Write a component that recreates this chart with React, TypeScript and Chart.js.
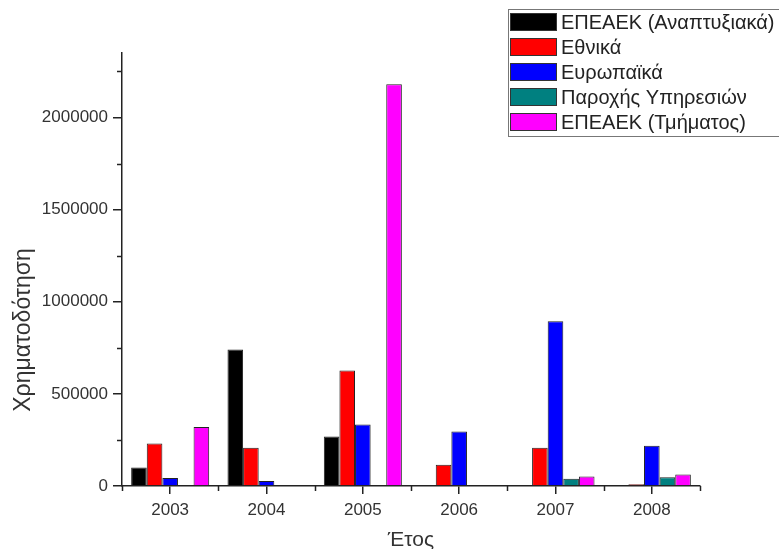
import { useEffect, useRef } from 'react';
import { Chart, registerables } from 'chart.js';

Chart.register(...registerables);

const years = ['2003', '2004', '2005', '2006', '2007', '2008'];
const seriesNames = [
  'ΕΠΕΑΕΚ (Αναπτυξιακά)',
  'Εθνικά',
  'Ευρωπαϊκά',
  'Παροχής Υπηρεσιών',
  'ΕΠΕΑΕΚ (Τμήματος)',
];
const epeaekAnaptyxiaka = [100000, 741000, 268000, null, null, null];
const ethnika = [230000, 207000, 627000, 115000, 207000, 10000];
const evropaika = [44000, 27000, 334000, 296000, 894000, 219000];
const paroxisYpiresion = [null, null, null, null, 40000, 48000];
const epeaekTmimatos = [320000, null, 2180000, null, 51000, 62000];
const yMajorTicks = [0, 500000, 1000000, 1500000, 2000000];
const yMinorTicks = [250000, 750000, 1250000, 1750000, 2250000];
const yMax = 2350000;
const xTitle = 'Έτος';
const yTitle = 'Χρηματοδότηση';

const seriesColors = ['#000000', '#ff0000', '#0000ff', '#008080', '#ff00ff'];
const FONT = '"Liberation Sans", Arial, sans-serif';
const TEXT = '#333333';

const decorPlugin = {
  id: 'decor',
  afterDraw(chart: any) {
    const ctx = chart.ctx;
    const area = chart.chartArea;
    const xs = chart.scales.x;
    const ys = chart.scales.y;
    ctx.save();
    ctx.strokeStyle = '#222';
    ctx.lineWidth = 1.5;
    // minor y ticks
    yMinorTicks.forEach((v) => {
      const py = Math.round(ys.getPixelForValue(v)) + 0.5;
      ctx.beginPath();
      ctx.moveTo(area.left - 5, py);
      ctx.lineTo(area.left, py);
      ctx.stroke();
    });
    // minor x ticks at category boundaries
    const n = years.length;
    const c0 = xs.getPixelForValue(0);
    const c1 = xs.getPixelForValue(1);
    const step = c1 - c0;
    for (let i = 0; i <= n; i++) {
      const px = Math.round(c0 + (i - 0.5) * step) + 0.5;
      ctx.beginPath();
      ctx.moveTo(px, area.bottom);
      ctx.lineTo(px, area.bottom + 5);
      ctx.stroke();
    }
    // axis titles
    ctx.fillStyle = TEXT;
    ctx.textAlign = 'center';
    ctx.textBaseline = 'middle';
    ctx.font = `21px ${FONT}`;
    ctx.fillText(xTitle, (area.left + area.right) / 2, 540);
    ctx.save();
    ctx.font = `23px ${FONT}`;
    ctx.translate(24, 330);
    ctx.rotate(-Math.PI / 2);
    ctx.fillText(yTitle, 0, 0);
    ctx.restore();

    // legend
    const lx = 508;
    const ly = 9;
    ctx.fillStyle = '#ffffff';
    ctx.fillRect(lx, ly, chart.width - lx + 5, 127);
    ctx.strokeStyle = '#777';
    ctx.lineWidth = 1;
    ctx.strokeRect(lx + 0.5, ly + 0.5, chart.width - lx + 5, 127);
    ctx.font = `20px ${FONT}`;
    ctx.textAlign = 'left';
    ctx.textBaseline = 'middle';
    chart.data.datasets.forEach((ds: any, i: number) => {
      const sy = 13 + i * 25;
      ctx.fillStyle = ds.backgroundColor;
      ctx.fillRect(510, sy, 47, 18);
      ctx.strokeStyle = '#333';
      ctx.strokeRect(510.5, sy + 0.5, 46, 17);
      ctx.fillStyle = '#222';
      ctx.fillText(ds.label, 561, sy + 10);
    });
    ctx.restore();
  },
};

export default function App() {
  const ref = useRef<HTMLCanvasElement>(null);
  useEffect(() => {
    document.body.style.margin = '0';
    const data = [epeaekAnaptyxiaka, ethnika, evropaika, paroxisYpiresion, epeaekTmimatos];
    const chart = new Chart(ref.current!, {
      type: 'bar',
      data: {
        labels: years,
        datasets: data.map((d, i) => ({
          label: seriesNames[i],
          data: d as any,
          backgroundColor: seriesColors[i],
          borderColor: '#222',
          borderWidth: 1,
          categoryPercentage: 0.81,
          barPercentage: 1,
        })),
      },
      options: {
        responsive: false,
        animation: false,
        layout: { padding: { top: 53, right: 79, left: 0, bottom: 0 } },
        plugins: {
          legend: { display: false },
          tooltip: { enabled: false },
        },
        scales: {
          x: {
            offset: true,
            grid: {
              offset: false,
              drawOnChartArea: false,
              drawTicks: true,
              tickLength: 8,
              color: '#222',
              lineWidth: 1.5,
            },
            border: { display: true, color: '#222', width: 1.5 },
            ticks: {
              color: TEXT,
              font: { family: FONT, size: 17 },
              padding: 6,
            },
            afterFit(scale: any) {
              scale.height = 63;
            },
          },
          y: {
            min: 0,
            max: yMax,
            afterBuildTicks(scale: any) {
              scale.ticks = yMajorTicks.map((v) => ({ value: v }));
            },
            grid: {
              drawOnChartArea: false,
              drawTicks: true,
              tickLength: 9,
              color: '#222',
              lineWidth: 1.5,
            },
            border: { display: true, color: '#222', width: 1.5 },
            ticks: {
              color: TEXT,
              font: { family: FONT, size: 17 },
              padding: 5,
              callback: (v: any) => String(v),
            },
            afterFit(scale: any) {
              scale.width = 122;
            },
          },
        },
      },
      plugins: [decorPlugin],
    });
    return () => chart.destroy();
  }, []);
  return (
    <div style={{ width: 779, height: 549 }}>
      <canvas ref={ref} width={779} height={549} />
    </div>
  );
}
